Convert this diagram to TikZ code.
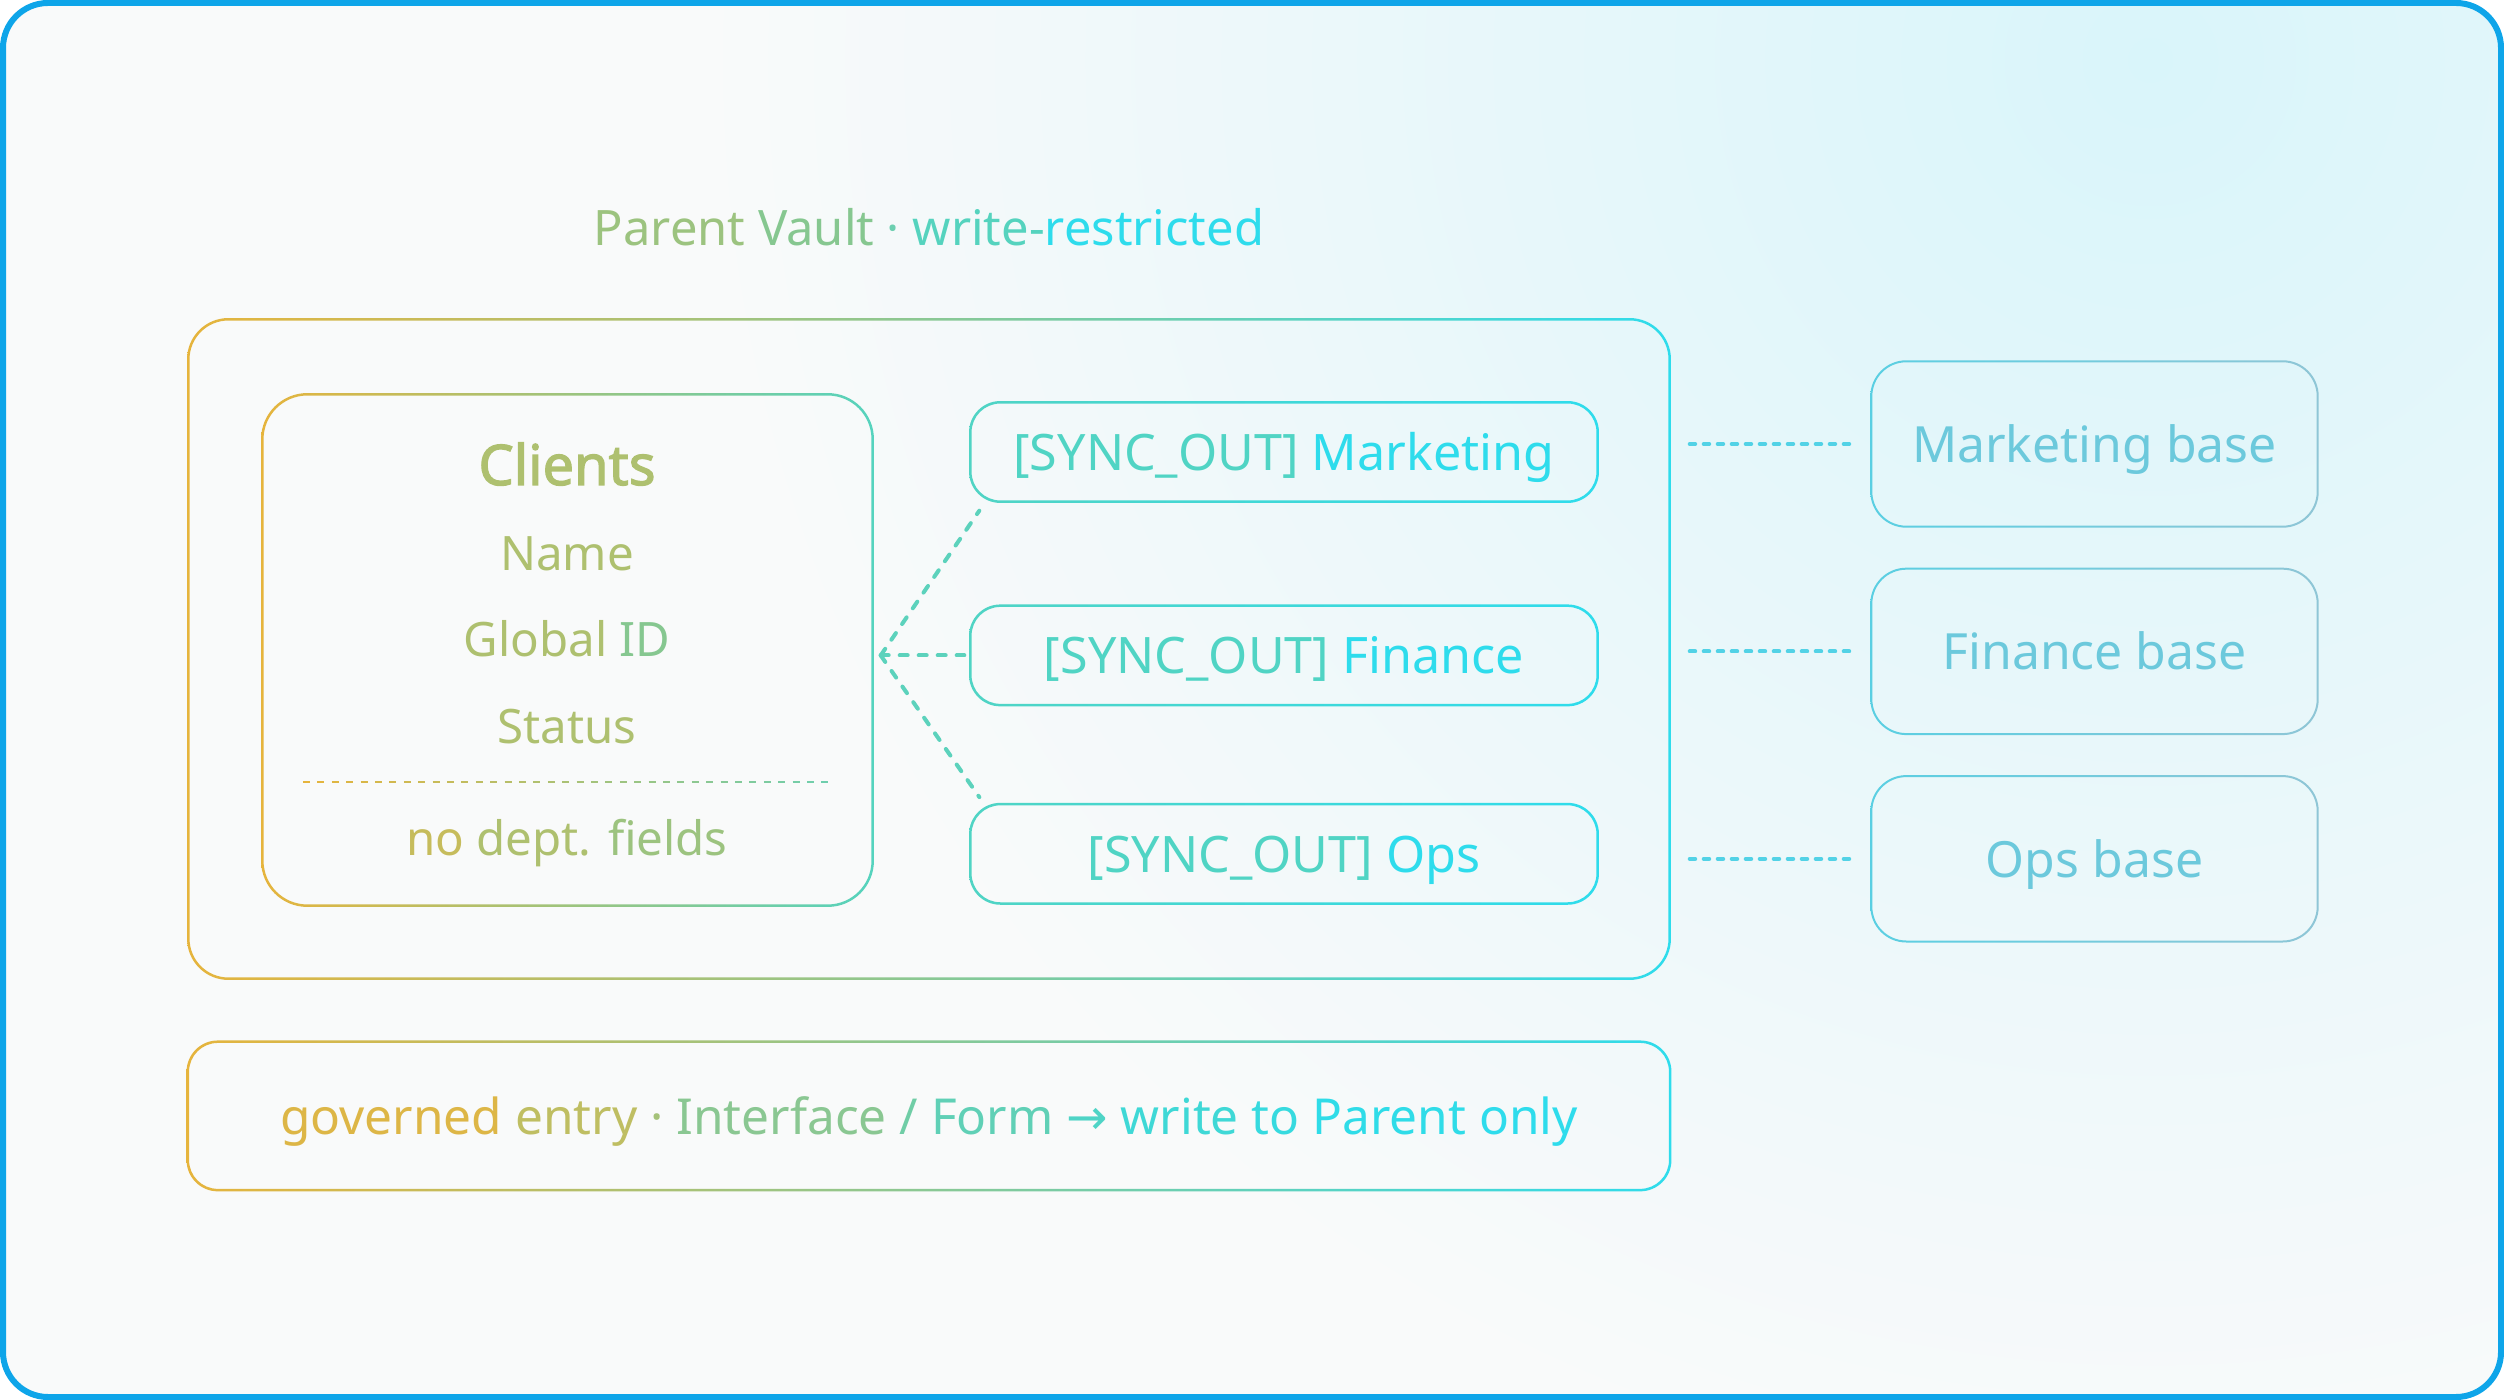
\documentclass[tikz,border=0pt]{standalone}
\usepackage{fontspec}
\setmainfont{Noto Sans}[AutoFakeBold=2.2]
\newfontfamily\arrowfont{DejaVu Sans}
\usetikzlibrary{positioning,calc}

\definecolor{frameblue}{HTML}{0EA5E9}
\definecolor{bgcyan}{HTML}{D9F5FA}
\definecolor{bgwhite}{HTML}{F9FAFA}
\definecolor{gold}{HTML}{E6B43C}
\definecolor{olive}{HTML}{AEC06F}
\definecolor{leaf}{HTML}{9CC37F}
\definecolor{sage}{HTML}{86C790}
\definecolor{mint}{HTML}{6CCFB0}
\definecolor{seafoam}{HTML}{55D3BE}
\definecolor{aqua}{HTML}{2EDCEC}
\definecolor{synccol}{HTML}{50D4C4}
\definecolor{linkcol}{HTML}{5CD2BC}
\definecolor{feedcol}{HTML}{52D2E6}
\definecolor{baseleft}{HTML}{5ACFE2}
\definecolor{baseright}{HTML}{8FC6D6}
\definecolor{basetext}{HTML}{6CC9DC}

\tikzset{
	every node/.style={
		inner sep=0pt,
		text height=1.05em,
		text depth=0pt
	},
	vaultbox/.style={
		shape=rectangle,
		minimum width=148mm,
		minimum height=65.8mm
	},
	tablebox/.style={
		shape=rectangle,
		minimum width=60.9mm,
		minimum height=51mm
	},
	field/.style={
		anchor=base,
		font=\fontsize{13.5pt}{16pt}\selectfont,
		text=olive
	},
	syncbox/.style={
		shape=rectangle,
		minimum width=62.6mm,
		minimum height=9.8mm,
		font=\fontsize{14.3pt}{17pt}\selectfont
	},
	basebox/.style={
		shape=rectangle,
		minimum width=44.5mm,
		minimum height=16.4mm,
		font=\fontsize{14.2pt}{17pt}\selectfont,
		text=basetext
	},
	entrybox/.style={
		shape=rectangle,
		minimum width=148.1mm,
		minimum height=14.7mm,
		font=\fontsize{14.1pt}{17pt}\selectfont
	},
	link/.style={
		draw=linkcol,
		line width=0.4mm,
		dash pattern=on 0.8mm off 1.1mm,
		line cap=round
	},
	feed/.style={
		draw=feedcol,
		line width=0.4mm,
		dash pattern=on 0.55mm off 0.85mm,
		line cap=round
	}
}

% border of a node, shaded from left to right
\newcommand{\gradframe}[5]{%
	\shade[left color=#3, right color=#4, even odd rule]
		[rounded corners=#2+0.5*#5]
		([xshift=-0.5*#5, yshift=-0.5*#5]#1.south west) rectangle ([xshift=0.5*#5, yshift=0.5*#5]#1.north east)
		[rounded corners=#2-0.5*#5]
		([xshift=0.5*#5, yshift=0.5*#5]#1.south west) rectangle ([xshift=-0.5*#5, yshift=-0.5*#5]#1.north east);
}

\begin{document}
\begin{tikzpicture}[x=0.1mm, y=-0.1mm]
	\useasboundingbox (0,0) rectangle (2504,1400);
	
	% background and frame
	\begin{scope}
		\clip[rounded corners=4.5mm] (3,3) rectangle (2501,1397);
		\fill[bgwhite] (0,0) rectangle (2504,1400);
		\shade[inner color=bgcyan, outer color=bgwhite] (2150,60) circle (1450);
	\end{scope}
	\draw[frameblue, line width=0.6mm, rounded corners=4.5mm] (3,3) rectangle (2501,1397);
	
	\node[vaultbox] (vault) at (929,649) {};
	\node[above=7.3mm of vault, font=\fontsize{13.9pt}{17pt}\selectfont] (title)
		{\color{leaf}Parent \color{sage}Vault \color{mint}· \color{seafoam}write-\color{aqua}restricted};
	
	\node[tablebox] (clients) at (567.5,650) {};
	\node[field, font=\bfseries\fontsize{15.9pt}{19pt}\selectfont] (cname) at (567,485) {Clients};
	\node[field] (fname) at (567,571) {Name};
	\node[field] (fid) at (567,657) {Global {\color{sage}ID}};
	\node[field] (fstatus) at (567,744) {Status};
	\node[field] (fnone) at (567,856) {{\color[HTML]{C6BC5C}no} dept. {\color{leaf}fields}};
	\foreach \i in {0,...,36} {
		\pgfmathsetmacro{\mix}{100-\i*2.7}
		\draw[line width=0.2mm, gold!\mix!mint] ({303+\i*14.4},782) -- ++(7,0);
	}
	
	\node[syncbox] (syncM) at (1284,452) {\color{synccol}[SYNC\_OUT] \color{aqua}Marketing};
	\node[syncbox, below=10.4mm of syncM] (syncF) {\color{synccol}[SYNC\_OUT] \color{aqua}Finance};
	\node[syncbox, below=9.9mm of syncF] (syncO) {\color{synccol}[SYNC\_OUT] \color{aqua}Ops};
	
	\node[basebox] (mbase) at (2094.5,444) {Marketing base};
	\node[basebox, below=4.2mm of mbase] (fbase) {Finance base};
	\node[basebox, below=4.2mm of fbase] (obase) {Ops base};
	
	\node[entrybox, below=6.3mm of vault] (entry)
		{\color[HTML]{DDB646}governed \color[HTML]{BFBE62}entry \color[HTML]{A5C279}· \color[HTML]{8AC792}Interface
		\color[HTML]{70CDA6}/ \color[HTML]{60D0B6}Form {\arrowfont\color[HTML]{4FD4C6}→} \color[HTML]{3FD8D6}write
		\color[HTML]{36DADF}to \color[HTML]{2FDCE8}Parent \color{aqua}only};
	
	\gradframe{vault}{4mm}{gold}{aqua}{0.25mm}
	\gradframe{clients}{4.5mm}{gold}{seafoam}{0.25mm}
	\foreach \n in {syncM,syncF,syncO} {
		\gradframe{\n}{3mm}{synccol}{aqua}{0.25mm}
	}
	\foreach \n in {mbase,fbase,obase} {
		\gradframe{\n}{3.5mm}{baseleft}{baseright}{0.2mm}
	}
	\gradframe{entry}{3mm}{gold}{aqua}{0.25mm}
	
	\coordinate (hub) at ([xshift=0.8mm]clients.east |- syncF.west);
	\draw[link] (hub) -- ([xshift=0.9mm, yshift=-0.9mm]syncM.south west);
	\draw[link] (hub) -- ([xshift=-0.6mm]syncF.west);
	\draw[link] (hub) -- ([xshift=0.9mm, yshift=0.7mm]syncO.north west);
	
	\draw[feed, shorten <=2mm, shorten >=1.9mm] (mbase.west -| vault.east) -- (mbase.west);
	\draw[feed, shorten <=2mm, shorten >=1.9mm] (fbase.west -| vault.east) -- (fbase.west);
	\draw[feed, shorten <=2mm, shorten >=1.9mm] (obase.west -| vault.east) -- (obase.west);
\end{tikzpicture}
\end{document}
